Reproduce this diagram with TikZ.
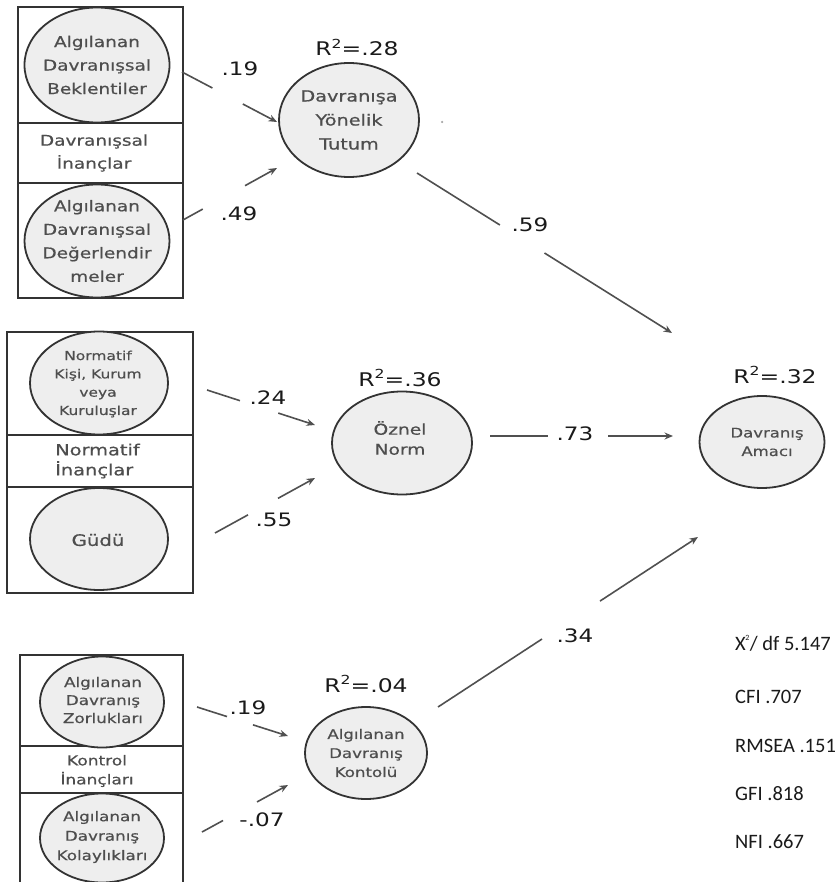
\documentclass[tikz,border=0pt]{standalone}
\usepackage{fontspec}
\usetikzlibrary{shapes.geometric,arrows.meta,calc}
\newfontfamily\dfont[FakeStretch=1.25]{DejaVu Sans}
\newfontfamily\bfont[FakeStretch=1.25,FakeBold=0.6]{DejaVu Sans}
\newfontfamily\cfont{Carlito}
\definecolor{edgeink}{HTML}{333333}
\definecolor{bubblefill}{HTML}{EEEEEE}
\definecolor{bubbleink}{HTML}{4E4E4E}
\definecolor{linkink}{HTML}{505050}
\definecolor{numink}{HTML}{1A1A1A}

% a path broken in the middle: start, end, gap begins, gap ends
\newcommand\gappedlink[4]{%
  \draw[link] (#1) -- ($(#1)!#3!(#2)$);
  \draw[link,-{Stealth[length=8.5pt,width=7pt]}] ($(#1)!#4!(#2)$) -- (#2);}
% R squared with a raised figure two
\newcommand\rsqval[1]{R\raisebox{0.42em}{\fontsize{12.5}{12.5}\selectfont 2}=#1}

\begin{document}
\begin{tikzpicture}[x=1pt,y=-1pt,
  frame/.style={draw=edgeink, line width=2pt, rectangle, inner sep=0pt},
  divider/.style={draw=edgeink, line width=1.4pt},
  bubble/.style={ellipse, draw=edgeink, line width=1.8pt, fill=bubblefill, inner sep=0pt},
  btext/.style={text=bubbleink, align=center, inner sep=0pt},
  coef/.style={text=numink, inner sep=0pt, font=\dfont\fontsize{18.5}{22}\selectfont},
  rsq/.style={text=numink, inner sep=0pt, anchor=base, font=\dfont\fontsize{18.8}{22}\selectfont},
  stat/.style={text=numink, inner sep=0pt, anchor=base west, font=\cfont\fontsize{20.5}{24}\selectfont},
  link/.style={draw=linkink, line width=1.6pt},
]
\useasboundingbox (0,0) rectangle (838,882);
\clip (0,0) rectangle (838,882);

% ---------- behavioural beliefs block ----------
\node[frame, minimum width=165pt, minimum height=291pt] (blockA) at (100.5,152.5) {};
\draw[divider] (blockA.west |- 0,123) -- (blockA.east |- 0,123);
\draw[divider] (blockA.west |- 0,183) -- (blockA.east |- 0,183);
\node[bubble, minimum width=145pt, minimum height=115pt] (expect) at (97,65) {};
\node[btext, font=\bfont\fontsize{14.8}{23.5}\selectfont] (expectT) at (expect) {Algılanan\\Davranışsal\\Beklentiler};
\node[btext, font=\bfont\fontsize{14.8}{23}\selectfont] (beliefA) at (94,153) {Davranışsal\\İnançlar};
\node[bubble, minimum width=145pt, minimum height=113pt] (evalu) at (97,241) {};
\node[btext, font=\bfont\fontsize{14.8}{23.5}\selectfont] (evaluT) at (evalu) {Algılanan\\Davranışsal\\Değerlendir\\meler};

% ---------- normative beliefs block ----------
\node[frame, minimum width=186pt, minimum height=261pt] (blockB) at (100,462.5) {};
\draw[divider] (blockB.west |- 0,435) -- (blockB.east |- 0,435);
\draw[divider] (blockB.west |- 0,487) -- (blockB.east |- 0,487);
\node[bubble, minimum width=138pt, minimum height=103pt] (referent) at (99,383) {};
\node[btext, font=\bfont\fontsize{12.4}{18.3}\selectfont] (referentT) at (98,384) {Normatif\\Kişi, Kurum\\veya\\Kuruluşlar};
\node[btext, align=left, anchor=west, font=\bfont\fontsize{15.5}{20}\selectfont] (beliefB) at (55,461) {Normatif\\İnançlar};
\node[bubble, minimum width=138pt, minimum height=102pt] (motive) at (99,539) {};
\node[btext, font=\bfont\fontsize{15.8}{20}\selectfont] (motiveT) at (98,540) {Güdü};

% ---------- control beliefs block ----------
\node[frame, minimum width=163pt, minimum height=235pt] (blockC) at (101.5,772.5) {};
\draw[divider] (blockC.west |- 0,746) -- (blockC.east |- 0,746);
\draw[divider] (blockC.west |- 0,793) -- (blockC.east |- 0,793);
\node[bubble, minimum width=124pt, minimum height=91pt] (hinder) at (102,702) {};
\node[btext, font=\bfont\fontsize{13.4}{18}\selectfont] (hinderT) at (103,700) {Algılanan\\Davranış\\Zorlukları};
\node[btext, font=\bfont\fontsize{13.6}{19}\selectfont] (beliefC) at (97,771) {Kontrol\\İnançları};
\node[bubble, minimum width=124pt, minimum height=89pt] (enable) at (102,838) {};
\node[btext, font=\bfont\fontsize{13.4}{19.5}\selectfont] (enableT) at (102,837) {Algılanan\\Davranış\\Kolaylıkları};

% ---------- latent constructs ----------
\node[bubble, minimum width=140pt, minimum height=114pt] (attitude) at (349,120) {};
\node[btext, font=\bfont\fontsize{15.4}{24}\selectfont] (attitudeT) at (attitude) {Davranışa\\Yönelik\\Tutum};
\node[rsq] (rAtt) at (357,56) {\rsqval{.28}};

\node[bubble, minimum width=140pt, minimum height=103pt] (norm) at (402,443) {};
\node[btext, font=\bfont\fontsize{14.9}{20}\selectfont] (normT) at (400,438) {Öznel\\Norm};
\node[rsq] (rNorm) at (400,386) {\rsqval{.36}};

\node[bubble, minimum width=122pt, minimum height=92pt] (control) at (366,753) {};
\node[btext, font=\bfont\fontsize{13.3}{19}\selectfont] (controlT) at (control) {Algılanan\\Davranış\\Kontolü};
\node[rsq] (rCtrl) at (366,692) {\rsqval{.04}};

\node[bubble, minimum width=125pt, minimum height=92pt] (intent) at (762,442) {};
\node[btext, font=\bfont\fontsize{13.2}{18.5}\selectfont] (intentT) at (767,442) {Davranış\\Amacı};
\node[rsq] (rInt) at (775,383) {\rsqval{.32}};

\node[circle, fill=black!35, inner sep=0pt, minimum size=2.5pt] (speck) at (442,122) {};

% ---------- paths ----------
\coordinate (pAs) at (182,72);   \coordinate (pAe) at (277,122);
\gappedlink{pAs}{pAe}{0.32}{0.64}
\node[coef] (cA) at (240,68.5) {.19};

\coordinate (pBs) at (183,220);  \coordinate (pBe) at (277,168);
\gappedlink{pBs}{pBe}{0.21}{0.66}
\node[coef] (cB) at (239,214) {.49};

\coordinate (pCs) at (417,173);  \coordinate (pCe) at (672,333);
\gappedlink{pCs}{pCe}{0.325}{0.50}
\node[coef] (cC) at (530,225) {.59};

\coordinate (pDs) at (207,390);  \coordinate (pDe) at (315,425);
\gappedlink{pDs}{pDe}{0.305}{0.66}
\node[coef] (cD) at (268,398) {.24};

\coordinate (pEs) at (215,533);  \coordinate (pEe) at (315,478);
\gappedlink{pEs}{pEe}{0.33}{0.63}
\node[coef] (cE) at (274,520) {.55};

\coordinate (pFs) at (490,436);  \coordinate (pFe) at (673,436);
\gappedlink{pFs}{pFe}{0.317}{0.645}
\node[coef] (cF) at (575,434) {.73};

\coordinate (pGs) at (197,707);  \coordinate (pGe) at (288,736);
\gappedlink{pGs}{pGe}{0.33}{0.615}
\node[coef] (cG) at (248,708) {.19};

\coordinate (pHs) at (202,832);  \coordinate (pHe) at (288,785);
\gappedlink{pHs}{pHe}{0.245}{0.64}
\node[coef] (cH) at (262,820) {-.07};

\coordinate (pIs) at (438,707);  \coordinate (pIe) at (698,537);
\gappedlink{pIs}{pIe}{0.40}{0.623}
\node[coef] (cI) at (575,636) {.34};

% ---------- fit indices ----------
\node[stat] (fitChi) at (735,650) {X\kern-0.5pt\raisebox{10pt}{\fontsize{8}{8}\selectfont 2}\kern0.5pt/ df 5.147};
\node[stat] (fitCfi) at (735,703) {CFI .707};
\node[stat] (fitRmsea) at (735,752) {RMSEA .151};
\node[stat] (fitGfi) at (735,800) {GFI .818};
\node[stat] (fitNfi) at (735,848) {NFI .667};
\end{tikzpicture}
\end{document}
